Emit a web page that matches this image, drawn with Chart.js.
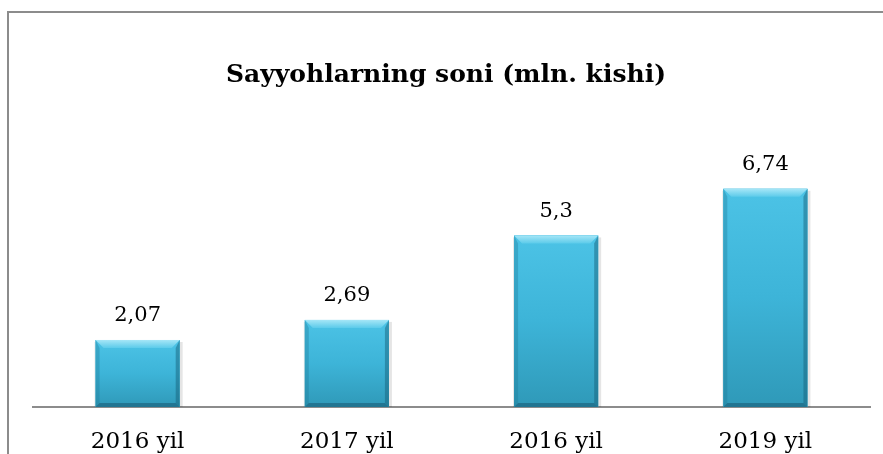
<!DOCTYPE html>
<html>
<head>
<meta charset="utf-8">
<script src="https://cdn.jsdelivr.net/npm/chart.js@4/dist/chart.umd.min.js"></script>
<style>
  html, body { margin: 0; padding: 0; background: #fff; overflow: hidden; }
  #frame { position: absolute; left: 7px; top: 11px; width: 900px; height: 500px; border: 2px solid #8c8c8c; box-sizing: border-box; }
  #tourists { position: absolute; left: 0; top: 0; }
</style>
</head>
<body>
<div id="frame"></div>
<canvas id="tourists" width="883" height="454"></canvas>
<script>
const chartTitle = "Sayyohlarning soni (mln. kishi)";
const years = ["2016 yil", "2017 yil", "2016 yil", "2019 yil"];
const tourists = [2.07, 2.69, 5.3, 6.74];

// bevel look for the bars, like the office 3d style
const bevelBars = {
  id: "bevelBars",
  afterDatasetsDraw(chart) {
    const ctx = chart.ctx;
    const meta = chart.getDatasetMeta(0);
    meta.data.forEach((bar, i) => {
      const l = bar.x - bar.width / 2, r = bar.x + bar.width / 2;
      const t = bar.y, b = bar.base;
      const d = 8, s = 4;
      ctx.save();
      // soft shadow
      ctx.fillStyle = "rgba(0,0,0,0.10)";
      ctx.fillRect(l - 1, t + 2, 1, b - t - 2);
      ctx.fillRect(r, t + 2, 3, b - t - 2);
      // body gradient
      let g = ctx.createLinearGradient(0, t, 0, b);
      g.addColorStop(0, "#4cc3e6");
      g.addColorStop(0.5, "#3db4d8");
      g.addColorStop(1, "#2f99b8");
      ctx.fillStyle = g;
      ctx.fillRect(l, t, r - l, b - t);
      // top
      let gt = ctx.createLinearGradient(0, t, 0, t + d);
      gt.addColorStop(0, "#a6e6f7");
      gt.addColorStop(1, "#5ccbea");
      ctx.fillStyle = gt;
      ctx.beginPath();
      ctx.moveTo(l, t); ctx.lineTo(r, t); ctx.lineTo(r - d, t + d); ctx.lineTo(l + d, t + d); ctx.closePath(); ctx.fill();
      // left
      ctx.fillStyle = "rgba(30,120,150,0.35)";
      ctx.beginPath();
      ctx.moveTo(l, t); ctx.lineTo(l + s, t + d); ctx.lineTo(l + s, b - s); ctx.lineTo(l, b); ctx.closePath(); ctx.fill();
      // right
      ctx.fillStyle = "rgba(20,90,115,0.45)";
      ctx.beginPath();
      ctx.moveTo(r, t); ctx.lineTo(r, b); ctx.lineTo(r - s, b - s); ctx.lineTo(r - s, t + d); ctx.closePath(); ctx.fill();
      // bottom
      ctx.fillStyle = "rgba(20,80,105,0.5)";
      ctx.beginPath();
      ctx.moveTo(l, b); ctx.lineTo(r, b); ctx.lineTo(r - s, b - s); ctx.lineTo(l + s, b - s); ctx.closePath(); ctx.fill();
      // value label
      ctx.fillStyle = "#000";
      ctx.font = "21px 'DejaVu Serif'";
      ctx.textAlign = "center";
      ctx.textBaseline = "middle";
      ctx.fillText(String(tourists[i]).replace(".", ","), bar.x, t - 24);
      ctx.restore();
    });
  }
};

const drawTitle = {
  id: "drawTitle",
  afterDraw(chart) {
    const ctx = chart.ctx;
    ctx.save();
    ctx.fillStyle = "#000";
    ctx.font = "bold 25px 'DejaVu Serif'";
    ctx.textAlign = "center";
    ctx.textBaseline = "middle";
    ctx.fillText(chartTitle, 446, 75);
    ctx.restore();
  }
};

let ctx = document.getElementById("tourists").getContext("2d");

let touristChart = new Chart(ctx, {
  type: "bar",
  data: {
    labels: years,
    datasets: [{
      data: tourists,
      backgroundColor: "#3db4d8",
      borderWidth: 0,
      categoryPercentage: 1,
      barPercentage: 0.402
    }]
  },
  options: {
    responsive: false,
    animation: false,
    layout: { padding: { left: 33, right: 13, top: 148, bottom: 0 } },
    plugins: { legend: { display: false }, title: { display: false }, tooltip: { enabled: false } },
    scales: {
      x: {
        grid: { display: false, drawTicks: false },
        border: { display: true, color: "#8c8c8c", width: 2 },
        ticks: { color: "#000", padding: 21, font: { family: "DejaVu Serif", size: 23 } },
        afterFit: scale => { scale.height = 47; }
      },
      y: { display: false, min: 0, max: 8 }
    }
  },
  plugins: [bevelBars, drawTitle]
});
</script>
</body>
</html>
